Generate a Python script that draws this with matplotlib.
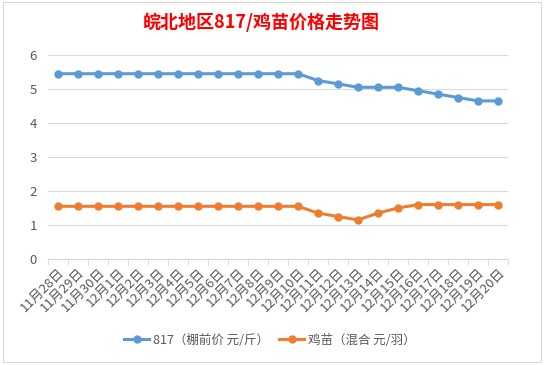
import matplotlib
matplotlib.use("Agg")
import matplotlib.pyplot as plt
import numpy as np
from matplotlib.patches import Rectangle

plt.rcParams['font.family'] = ['Noto Sans CJK SC', 'DejaVu Sans']

dates = ["11月28日", "11月29日", "11月30日"] + [f"12月{d}日" for d in range(1, 21)]
price_817 = [5.45] * 13 + [5.25, 5.15, 5.05, 5.05, 5.05, 4.95, 4.85, 4.75, 4.65, 4.65]
price_chick = [1.55] * 13 + [1.35, 1.25, 1.15, 1.35, 1.5, 1.6, 1.6, 1.6, 1.6, 1.6]
series_names = ["817（棚前价 元/斤）", "鸡苗（混合 元/羽）"]
colors = ["#5B9BD5", "#ED7D31"]
grid_c = "#D9D9D9"
text_c = "#595959"

fig = plt.figure(figsize=(5.48, 3.65), dpi=100)
fig.patches.append(Rectangle((3 / 548, 3 / 365), 538 / 548, 360 / 365, transform=fig.transFigure,
                             fill=False, edgecolor=grid_c, linewidth=0.8))
ax = fig.add_axes([48 / 548, 1 - 259 / 365, 460 / 548, 204 / 365])

x = np.arange(len(dates))
for vals, name, c in zip([price_817, price_chick], series_names, colors):
    ax.plot(x, vals, color=c, linewidth=2.2, marker='o', markersize=5, label=name)

ax.set_xlim(-0.5, len(dates) - 0.5)
ax.set_ylim(0, 6)
ax.set_yticks(range(0, 7))
ax.yaxis.grid(True, color=grid_c, linewidth=0.8)
ax.set_axisbelow(True)
for s in ["top", "right", "left"]:
    ax.spines[s].set_visible(False)
ax.spines["bottom"].set_color(grid_c)
ax.tick_params(axis='y', length=0, labelsize=9.5, labelcolor=text_c, pad=8)

ax.set_xticks(x)
ax.set_xticklabels(dates, rotation=45, ha='right', rotation_mode='anchor', fontsize=9.5, color=text_c)
ax.tick_params(axis='x', which='major', length=0, pad=5)
ax.set_xticks(np.arange(-0.5, len(dates)), minor=True)
ax.tick_params(axis='x', which='minor', length=4, color=grid_c)

fig.text(261 / 548, 1 - 22 / 365, "皖北地区817/鸡苗价格走势图", ha='center', va='center',
         fontsize=13, fontweight='bold', color='red')

fig.legend(loc='center', bbox_to_anchor=(270 / 548, 1 - 340 / 365), ncol=2, frameon=False,
           fontsize=9, labelcolor=text_c, handlelength=2.0, handletextpad=0.3, columnspacing=0.8)

plt.savefig("out.png", dpi=100)
